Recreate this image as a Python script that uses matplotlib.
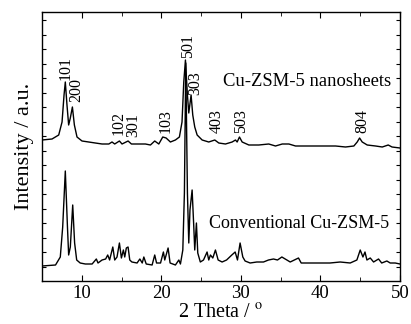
import numpy as np
import matplotlib
matplotlib.use('Agg')
import matplotlib.pyplot as plt
from matplotlib.ticker import MultipleLocator

plt.rcParams['font.family'] = ['Liberation Serif', 'DejaVu Serif']
plt.rcParams['mathtext.fontset'] = 'stix'

# conventional Cu-ZSM-5
conv_x = [5.0, 6.7, 7.3, 7.6, 7.93, 8.2, 8.35, 8.56, 8.86, 9.1, 9.36, 9.8, 10.45, 11.3, 11.83,
          12.04, 12.55, 13.0, 13.26, 13.5, 13.9, 14.14, 14.43, 14.73, 14.98, 15.23, 15.4, 15.6,
          15.82, 16.03, 16.3, 16.95, 17.3, 17.6, 17.8, 18.1, 18.84, 19.17, 19.4, 19.9, 20.26,
          20.43, 20.85, 21.1, 21.77, 22.2, 22.4, 22.7, 22.9, 23.07, 23.28, 23.45, 23.6, 23.87,
          24.08, 24.2, 24.41, 24.58, 24.9, 25.3, 25.75, 25.96, 26.17, 26.47, 26.8, 27.14, 27.64,
          28.2, 28.86, 29.28, 29.57, 29.9, 30.24, 30.53, 31.16, 32.0, 32.84, 33.47, 34.1, 34.6,
          35.15, 35.78, 36.2, 37.24, 37.58, 38.7, 39.97, 41.2, 42.48, 43.74, 44.58, 45.0, 45.34,
          45.6, 45.84, 46.26, 46.68, 47.3, 47.7, 48.35, 48.77, 49.4, 50.0]
conv_y = [15, 16, 24, 54, 110, 54, 26, 34, 76, 38, 21, 18, 17, 17, 22,
          18, 21, 22, 26, 21, 34, 21, 24, 38, 23, 31, 24, 33,
          34, 21, 19, 18, 22, 18, 24, 17, 16, 26, 18, 18, 29,
          21, 33, 18, 16, 21, 17, 31, 88, 218, 88, 38, 71, 91,
          54, 31, 58, 28, 19, 21, 29, 21, 26, 23, 31, 21, 19,
          21, 26, 29, 21, 38, 24, 20, 18, 19, 19, 21, 22, 21,
          24, 21, 19, 23, 18, 18, 18, 18, 19, 18, 21, 31, 24,
          29, 21, 23, 19, 22, 18, 20, 18, 18, 17]

# Cu-ZSM-5 nanosheets (already shifted up)
nano_x = [5.0, 6.26, 7.1, 7.52, 7.77, 7.93, 8.14, 8.35, 8.56, 8.82, 9.07, 9.4, 10.03, 10.87,
          11.7, 12.55, 13.4, 13.8, 14.14, 14.73, 15.06, 15.82, 16.24, 17.16, 18.0, 18.63, 19.17,
          19.68, 20.18, 20.6, 21.14, 21.77, 22.27, 22.6, 22.82, 23.03, 23.28, 23.45, 23.74, 23.95,
          24.2, 24.5, 25.13, 25.96, 26.72, 27.22, 28.06, 28.9, 29.32, 29.53, 29.82, 30.16, 31.0,
          32.25, 33.5, 34.35, 35.2, 36.03, 36.87, 38.12, 39.38, 40.64, 41.9, 43.15, 44.2, 44.62,
          44.92, 45.25, 45.88, 46.93, 47.77, 48.52, 49.0, 50.0]
nano_y = [141, 142, 146, 159, 186, 199, 176, 156, 163, 174, 156, 144, 140, 139,
          138, 137, 137, 139, 137, 140, 137, 140, 137, 137, 137, 136, 140,
          137, 144, 143, 139, 141, 144, 159, 199, 221, 186, 168, 186, 166,
          154, 146, 141, 139, 141, 138, 137, 139, 141, 139, 144, 139, 136,
          136, 137, 135, 137, 137, 135, 135, 135, 135, 135, 134, 135, 139,
          143, 139, 136, 135, 134, 136, 134, 133]

hkl = ['101', '200', '102', '301', '103', '501', '303', '403', '503', '804']
hkl_x = [7.96, 9.34, 14.6, 16.45, 20.6, 23.3, 24.3, 27.0, 30.0, 45.25]
hkl_y = [201, 179, 146, 144, 148, 223, 186, 148, 148, 148]

fig = plt.figure(figsize=(4.11, 3.24), dpi=100)
ax = fig.add_axes([42 / 411, 43 / 324, 358 / 411, 269 / 324])

ax.plot(conv_x, conv_y, color='black', lw=1.0)
ax.plot(nano_x, nano_y, color='black', lw=1.0)

for lab, x, y in zip(hkl, hkl_x, hkl_y):
    ax.text(x, y, lab, rotation=90, ha='center', va='bottom', fontsize=11.5)

ax.text(27.77, 199, 'Cu-ZSM-5 nanosheets', va='center', fontsize=13.4)
ax.text(26.0, 58, 'Conventional Cu-ZSM-5', va='center', fontsize=13)

ax.set_xlim(5, 50)
ax.set_ylim(0, 269)
ax.xaxis.set_major_locator(MultipleLocator(10))
ax.xaxis.set_minor_locator(MultipleLocator(5))
ax.set_yticks(np.arange(14.5, 265, 14.5))
ax.set_yticklabels([])
ax.tick_params(which='both', direction='in', top=True, right=True, labelsize=13.5, pad=3)
ax.tick_params(which='major', length=4)
ax.tick_params(which='minor', length=3)
ax.tick_params(axis='y', length=3)
for s in ax.spines.values():
    s.set_linewidth(1.0)

ax.set_xlabel('2 Theta / $^{\\rm o}$', fontsize=14.5, labelpad=1)
ax.set_ylabel('Intensity / a.u.', fontsize=16, labelpad=3)

fig.savefig('out.png', dpi=100)
